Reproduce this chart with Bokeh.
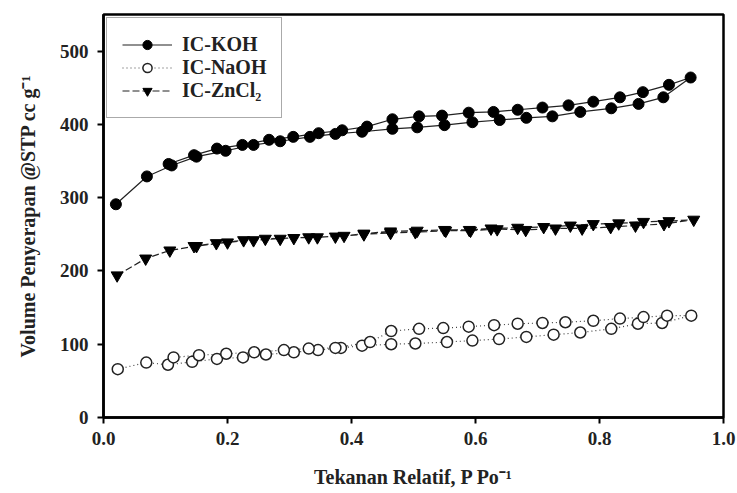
from bokeh.plotting import figure
from bokeh.models import FixedTicker, PrintfTickFormatter, Legend, LegendItem, Range1d
from bokeh.embed import file_html
from bokeh.resources import INLINE

# IC-KOH (adsorption then desorption)
koh_x = [0.02, 0.07, 0.11, 0.15, 0.197, 0.242, 0.285, 0.333, 0.374, 0.417, 0.466, 0.506, 0.55, 0.595,
         0.639, 0.682, 0.724, 0.769, 0.819, 0.863, 0.903, 0.947,
         0.912, 0.87, 0.833, 0.79, 0.75, 0.708, 0.668, 0.629, 0.589, 0.546, 0.509, 0.466, 0.425,
         0.385, 0.347, 0.306, 0.267, 0.224, 0.183, 0.146, 0.105]
koh_y = [291, 329, 344, 356, 364, 372, 377, 383, 387, 390, 394, 396, 399, 403,
         406, 409, 411, 417, 422, 428, 437, 464,
         454, 444, 437, 431, 426, 423, 420, 417, 416, 412, 411, 407, 397,
         392, 388, 383, 379, 372, 367, 358, 346]

# IC-NaOH
naoh_x = [0.023, 0.069, 0.104, 0.143, 0.183, 0.225, 0.262, 0.307, 0.346, 0.383, 0.417, 0.464, 0.503,
          0.554, 0.595, 0.638, 0.682, 0.726, 0.769, 0.819, 0.862, 0.901, 0.948,
          0.909, 0.871, 0.833, 0.79, 0.745, 0.708, 0.668, 0.63, 0.589, 0.548, 0.509, 0.464,
          0.43, 0.374, 0.331, 0.291, 0.243, 0.198, 0.154, 0.113]
naoh_y = [66, 75, 72, 76, 80, 82, 86, 89, 92, 95, 98, 100, 101,
          103, 105, 107, 110, 113, 116, 121, 128, 129, 139,
          139, 137, 135, 132, 130, 129, 128, 126, 124, 122, 121, 118,
          103, 95, 94, 92, 89, 87, 85, 82]

# IC-ZnCl2
zn_x = [0.022, 0.068, 0.107, 0.15, 0.2, 0.242, 0.285, 0.331, 0.374, 0.42, 0.463, 0.503, 0.552,
        0.592, 0.635, 0.681, 0.729, 0.772, 0.818, 0.858, 0.904, 0.952,
        0.912, 0.871, 0.831, 0.79, 0.753, 0.71, 0.668, 0.625, 0.59, 0.55, 0.506, 0.463,
        0.42, 0.388, 0.345, 0.307, 0.261, 0.226, 0.182, 0.146]
zn_y = [194, 217, 228, 234, 239, 242, 244, 246, 247, 250, 252, 253, 255,
        255, 257, 256, 258, 258, 260, 262, 264, 270,
        268, 267, 265, 264, 262, 260, 259, 258, 256, 256, 255, 254,
        251, 248, 246, 245, 244, 242, 238, 234]

x_ticks = [0.0, 0.2, 0.4, 0.6, 0.8, 1.0]
y_ticks = [0, 100, 200, 300, 400, 500]

FONT = "Liberation Serif"

p = figure(width=737, height=493, output_backend="svg", toolbar_location=None,
           x_range=Range1d(0, 1.0), y_range=Range1d(0, 550),
           min_border_left=103, min_border_right=14, min_border_top=14, min_border_bottom=76)
p.background_fill_color = "white"
p.border_fill_color = "white"
p.xgrid.visible = False
p.ygrid.visible = False
p.outline_line_color = "black"
p.outline_line_width = 2.5
p.outline_line_alpha = 1.0

for ax in (p.xaxis[0], p.yaxis[0]):
    ax.axis_line_width = 2.5
    ax.axis_line_color = "black"
    ax.major_tick_line_width = 2
    ax.major_tick_in = 0
    ax.major_tick_out = 6
    ax.minor_tick_line_color = None
    ax.major_label_text_font = FONT
    ax.major_label_text_font_style = "bold"
    ax.major_label_text_font_size = "19px"
    ax.major_label_text_color = "#222"
    ax.axis_label_text_font = FONT
    ax.axis_label_text_font_style = "bold"
    ax.axis_label_text_font_size = "20px"
    ax.axis_label_text_color = "#222"

p.xaxis.ticker = FixedTicker(ticks=x_ticks)
p.yaxis.ticker = FixedTicker(ticks=y_ticks)
p.xaxis.formatter = PrintfTickFormatter(format="%.1f")
p.xaxis.major_label_standoff = 8
p.yaxis.major_label_standoff = 9
p.xaxis.axis_label = "Tekanan Relatif, P Po\u207b\u00b9"
p.yaxis.axis_label = "Volume Penyerapan @STP cc g\u207b\u00b9"
p.xaxis.axis_label_standoff = 18
p.yaxis.axis_label_standoff = 18

l1 = p.line(koh_x, koh_y, line_color="#222", line_width=1.2)
s1 = p.scatter(koh_x, koh_y, marker="circle", size=11, fill_color="black", line_color="black")

l2 = p.line(naoh_x, naoh_y, line_color="#444", line_width=1.2, line_dash="1 3")
s2 = p.scatter(naoh_x, naoh_y, marker="circle", size=11, fill_color="white", line_color="#222", line_width=1.5)

l3 = p.line(zn_x, zn_y, line_color="#222", line_width=1.2, line_dash="7 3")
s3 = p.scatter(zn_x, zn_y, marker="inverted_triangle", size=12, fill_color="black", line_color="black")

legend = Legend(items=[
    LegendItem(label="IC-KOH", renderers=[l1, s1]),
    LegendItem(label="IC-NaOH", renderers=[l2, s2]),
    LegendItem(label="IC-ZnCl\u2082", renderers=[l3, s3]),
], location="top_left")
legend.border_line_color = "#555"
legend.border_line_width = 1.5
legend.background_fill_alpha = 1
legend.label_text_font = FONT
legend.label_text_font_style = "bold"
legend.label_text_font_size = "20px"
legend.label_text_color = "#222"
legend.glyph_width = 50
legend.glyph_height = 23
legend.label_height = 23
legend.spacing = 0
legend.padding = 15
legend.margin = 3
legend.label_standoff = 10
p.add_layout(legend)

open("out.html", "w").write(file_html(p, INLINE))
